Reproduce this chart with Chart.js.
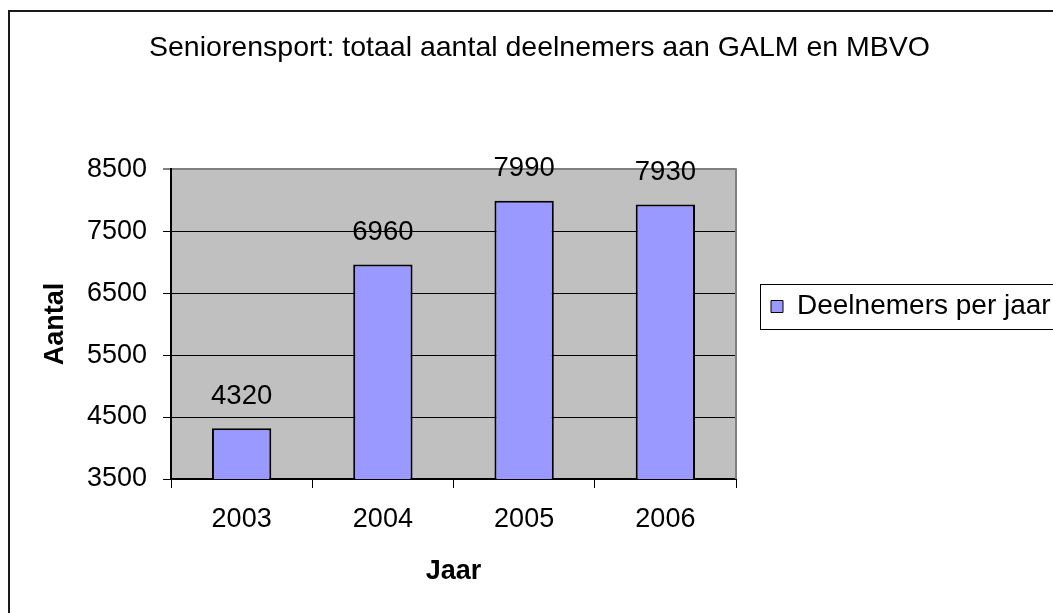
<!DOCTYPE html>
<html><head><meta charset="utf-8">
<script src="https://cdn.jsdelivr.net/npm/chart.js@4.4.1/dist/chart.umd.min.js"></script>
<style>
html,body{margin:0;padding:0;background:#fff;overflow:hidden;width:1053px;height:613px;}
#frame{position:absolute;left:8px;top:10px;width:1200px;height:800px;border:2px solid #1a1a1a;box-sizing:border-box;}
#c{position:absolute;left:0;top:0;}
</style></head><body>
<div id="frame"></div>
<canvas id="c" width="1079" height="613"></canvas>
<script>
const chartTitle = 'Seniorensport: totaal aantal deelnemers aan GALM en MBVO';
const categories = ['2003', '2004', '2005', '2006'];
const participants = [4320, 6960, 7990, 7930];
const seriesLabel = 'Deelnemers per jaar';
const yTicks = [3500, 4500, 5500, 6500, 7500, 8500];
const xTitle = 'Jaar';
const yTitle = 'Aantal';

const FONT = "'Liberation Sans', Arial, sans-serif";

const plotBg = {
  id: 'plotBg',
  beforeDraw(chart) {
    const {ctx, chartArea: a} = chart;
    ctx.save();
    ctx.fillStyle = '#C0C0C0';
    ctx.fillRect(a.left, a.top, a.right - a.left, a.bottom - a.top);
    ctx.restore();
  },
  afterDraw(chart) {
    const {ctx, chartArea: a} = chart;
    ctx.save();
    ctx.strokeStyle = '#808080';
    ctx.lineWidth = 2;
    ctx.beginPath();
    ctx.moveTo(a.right, a.top - 1);
    ctx.lineTo(a.right, a.bottom);
    ctx.stroke();
    const lg = chart.legend;
    if (lg && lg.legendHitBoxes && lg.legendHitBoxes.length) {
      const hb = lg.legendHitBoxes[0];
      const cy = hb.top + hb.height / 2;
      ctx.strokeStyle = '#000';
      ctx.lineWidth = 1;
      ctx.strokeRect(Math.round(hb.left - 11) + 0.5, Math.round(cy - 22.5) + 0.5, 400, 45);
    }
    ctx.restore();
  }
};

const valueLabels = {
  id: 'valueLabels',
  afterDatasetsDraw(chart) {
    const {ctx} = chart;
    const meta = chart.getDatasetMeta(0);
    ctx.save();
    ctx.font = '27.5px ' + FONT;
    ctx.fillStyle = '#000';
    ctx.textAlign = 'center';
    ctx.textBaseline = 'middle';
    meta.data.forEach((bar, i) => {
      ctx.fillText(String(chart.data.datasets[0].data[i]), bar.x, bar.y - 32);
    });
    ctx.restore();
  }
};

new Chart(document.getElementById('c'), {
  type: 'bar',
  data: {
    labels: categories,
    datasets: [{
      label: seriesLabel,
      data: participants,
      backgroundColor: '#9999FF',
      borderColor: '#000',
      borderWidth: 2,
      borderSkipped: false,
      categoryPercentage: 1,
      barPercentage: 0.42
    }]
  },
  options: {
    responsive: false,
    animation: false,
    devicePixelRatio: 1,
    layout: { padding: { left: 23, top: 0, bottom: 0, right: 23 } },
    plugins: {
      tooltip: { enabled: false },
      title: {
        display: true,
        text: chartTitle,
        color: '#000',
        font: { family: FONT, size: 28.5, weight: 'normal' },
        padding: { top: 31, bottom: 104 }
      },
      legend: {
        display: true,
        position: 'right',
        align: 'center',
        maxWidth: 320,
        labels: {
          color: '#000',
          font: { family: FONT, size: 28 },
          boxWidth: 12,
          boxHeight: 12,
          padding: 35,
          generateLabels(chart) {
            const items = Chart.defaults.plugins.legend.labels.generateLabels(chart);
            items.forEach(it => { it.lineWidth = 1; it.strokeStyle = '#000'; });
            return items;
          }
        }
      }
    },
    scales: {
      x: {
        afterFit(scale) { scale.height = 134; },
        grid: { display: true, drawOnChartArea: false, drawTicks: true, tickLength: 9, color: '#000', offset: true },
        border: { display: true, color: '#000', width: 2 },
        ticks: { color: '#000', font: { family: FONT, size: 27 }, padding: 15, maxRotation: 0 },
        title: { display: true, text: xTitle, color: '#000', font: { family: FONT, size: 27, weight: 'bold' }, padding: { top: 0, bottom: 25 } }
      },
      y: {
        min: 3500,
        max: 8500,
        afterFit(scale) { scale.width = 148; },
        afterBuildTicks(scale) { scale.ticks = yTicks.map(v => ({ value: v })); },
        grid: {
          color: (c) => (c.tick && c.tick.value === 8500) ? '#808080' : '#000',
          lineWidth: (c) => (c.tick && c.tick.value === 8500) ? 2 : 1,
          tickColor: '#000',
          tickWidth: 1,
          tickLength: 8,
          drawTicks: true
        },
        border: { display: true, color: '#000', width: 2 },
        ticks: { color: '#000', font: { family: FONT, size: 27 }, padding: 16, callback: (v) => String(v) },
        title: { display: true, text: yTitle, color: '#000', font: { family: FONT, size: 27, weight: 'bold' }, padding: { top: 16, bottom: 0 } }
      }
    }
  },
  plugins: [plotBg, valueLabels]
});
</script>
</body></html>
